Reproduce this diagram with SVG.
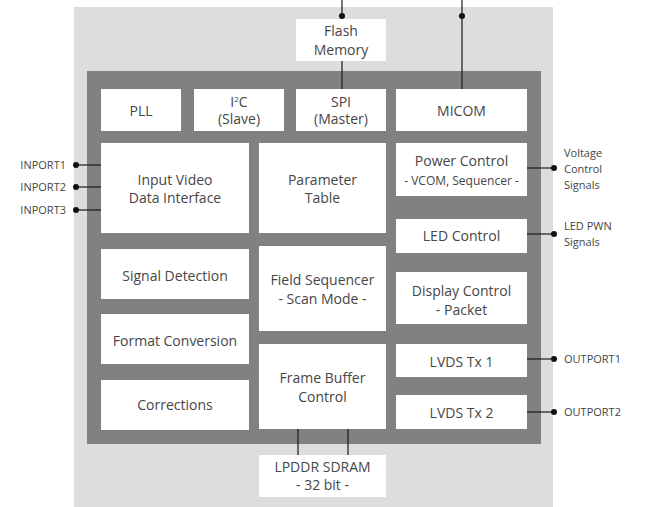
<svg xmlns="http://www.w3.org/2000/svg" width="646" height="507" viewBox="0 0 646 507">
<style>
.box{fill:#ffffff}
.t{font-family:"Open Sans","Liberation Sans",sans-serif;font-size:14px;fill:#464646;text-anchor:middle}
.s{font-family:"Open Sans","Liberation Sans",sans-serif;font-size:12px;fill:#464646;text-anchor:middle}
.p{font-family:"Open Sans","Liberation Sans",sans-serif;font-size:11px;fill:#464646}
.pe{font-family:"Open Sans","Liberation Sans",sans-serif;font-size:11px;fill:#464646;text-anchor:end}
.ln{stroke:#1a1a1a;stroke-width:1.2;fill:none}
.dot{fill:#111111}
</style>
<rect width="646" height="507" fill="#ffffff"/>
<g id="chip-outer"><rect x="74" y="7" width="479" height="500" fill="#dcdddf"/></g>
<g id="chip-core"><rect x="87" y="71" width="454" height="373" fill="#818181"/></g>

<g id="connectors">
  <line class="ln" x1="342" y1="0" x2="342" y2="19"/>
  <circle class="dot" cx="342" cy="16" r="3"/>
  <line class="ln" x1="342" y1="61" x2="342" y2="89"/>
  <line class="ln" x1="462" y1="0" x2="462" y2="89"/>
  <circle class="dot" cx="462" cy="16" r="3"/>
  <line class="ln" x1="298" y1="429" x2="298" y2="455"/>
  <line class="ln" x1="348" y1="429" x2="348" y2="455"/>
  <line class="ln" x1="76" y1="165" x2="101" y2="165"/>
  <circle class="dot" cx="76" cy="165" r="3"/>
  <line class="ln" x1="76" y1="187" x2="101" y2="187"/>
  <circle class="dot" cx="76" cy="187" r="3"/>
  <line class="ln" x1="76" y1="210" x2="101" y2="210"/>
  <circle class="dot" cx="76" cy="210" r="3"/>
  <line class="ln" x1="527" y1="168" x2="554" y2="168"/>
  <circle class="dot" cx="554" cy="168" r="3"/>
  <line class="ln" x1="527" y1="234" x2="554" y2="234"/>
  <circle class="dot" cx="554" cy="234" r="3"/>
  <line class="ln" x1="527" y1="359" x2="554" y2="359"/>
  <circle class="dot" cx="554" cy="359" r="3"/>
  <line class="ln" x1="527" y1="412" x2="554" y2="412"/>
  <circle class="dot" cx="554" cy="412" r="3"/>
</g>

<g id="flash"><rect class="box" x="296" y="19" width="90" height="42"/>
  <text class="t" x="341" y="36">Flash</text><text class="t" x="341" y="55">Memory</text></g>
<g id="pll"><rect class="box" x="101" y="89" width="80" height="42"/>
  <text class="t" x="141" y="116">PLL</text></g>
<g id="i2c"><rect class="box" x="194" y="89" width="90" height="42"/>
  <text class="t" x="239" y="106.5">I<tspan font-size="8" dy="-5">2</tspan><tspan dy="5">C</tspan></text>
  <text class="t" x="239" y="124">(Slave)</text></g>
<g id="spi"><rect class="box" x="296" y="89" width="90" height="42"/>
  <text class="t" x="341" y="106.5">SPI</text><text class="t" x="341" y="124">(Master)</text></g>
<g id="micom"><rect class="box" x="396" y="89" width="131" height="42"/>
  <text class="t" x="461.5" y="116">MICOM</text></g>
<g id="input-video"><rect class="box" x="101" y="143" width="148" height="90"/>
  <text class="t" x="175" y="185">Input Video</text><text class="t" x="175" y="203">Data Interface</text></g>
<g id="parameter-table"><rect class="box" x="259" y="143" width="127" height="90"/>
  <text class="t" x="322.5" y="185">Parameter</text><text class="t" x="322.5" y="203">Table</text></g>
<g id="power-control"><rect class="box" x="396" y="143" width="131" height="53"/>
  <text class="t" x="461.5" y="166">Power Control</text><text class="s" x="461.5" y="185">- VCOM, Sequencer -</text></g>
<g id="led-control"><rect class="box" x="396" y="219" width="131" height="34"/>
  <text class="t" x="461.5" y="241">LED Control</text></g>
<g id="signal-detection"><rect class="box" x="101" y="249" width="148" height="50"/>
  <text class="t" x="175" y="281">Signal Detection</text></g>
<g id="field-sequencer"><rect class="box" x="259" y="246" width="127" height="85"/>
  <text class="t" x="322.5" y="285">Field Sequencer</text><text class="t" x="322.5" y="304">- Scan Mode -</text></g>
<g id="display-control"><rect class="box" x="396" y="272" width="131" height="52"/>
  <text class="t" x="461.5" y="296">Display Control</text><text class="t" x="461.5" y="315">- Packet</text></g>
<g id="format-conversion"><rect class="box" x="101" y="314" width="148" height="50"/>
  <text class="t" x="175" y="346">Format Conversion</text></g>
<g id="frame-buffer"><rect class="box" x="259" y="344" width="127" height="85"/>
  <text class="t" x="322.5" y="383">Frame Buffer</text><text class="t" x="322.5" y="402">Control</text></g>
<g id="lvds1"><rect class="box" x="396" y="344" width="131" height="33"/>
  <text class="t" x="461.5" y="367">LVDS Tx 1</text></g>
<g id="corrections"><rect class="box" x="101" y="380" width="148" height="50"/>
  <text class="t" x="175" y="410">Corrections</text></g>
<g id="lvds2"><rect class="box" x="396" y="395" width="131" height="34"/>
  <text class="t" x="461.5" y="418">LVDS Tx 2</text></g>
<g id="lpddr"><rect class="box" x="259" y="455" width="127" height="42"/>
  <text class="t" x="322.5" y="472">LPDDR SDRAM</text><text class="t" x="322.5" y="490">- 32 bit -</text></g>

<g id="port-labels">
  <text class="pe" x="66" y="169">INPORT1</text>
  <text class="pe" x="66" y="191">INPORT2</text>
  <text class="pe" x="66" y="214">INPORT3</text>
  <text class="p" x="564" y="157">Voltage</text>
  <text class="p" x="564" y="173">Control</text>
  <text class="p" x="564" y="189">Signals</text>
  <text class="p" x="564" y="230">LED PWN</text>
  <text class="p" x="564" y="246">Signals</text>
  <text class="p" x="564" y="363">OUTPORT1</text>
  <text class="p" x="564" y="416">OUTPORT2</text>
</g>
</svg>
